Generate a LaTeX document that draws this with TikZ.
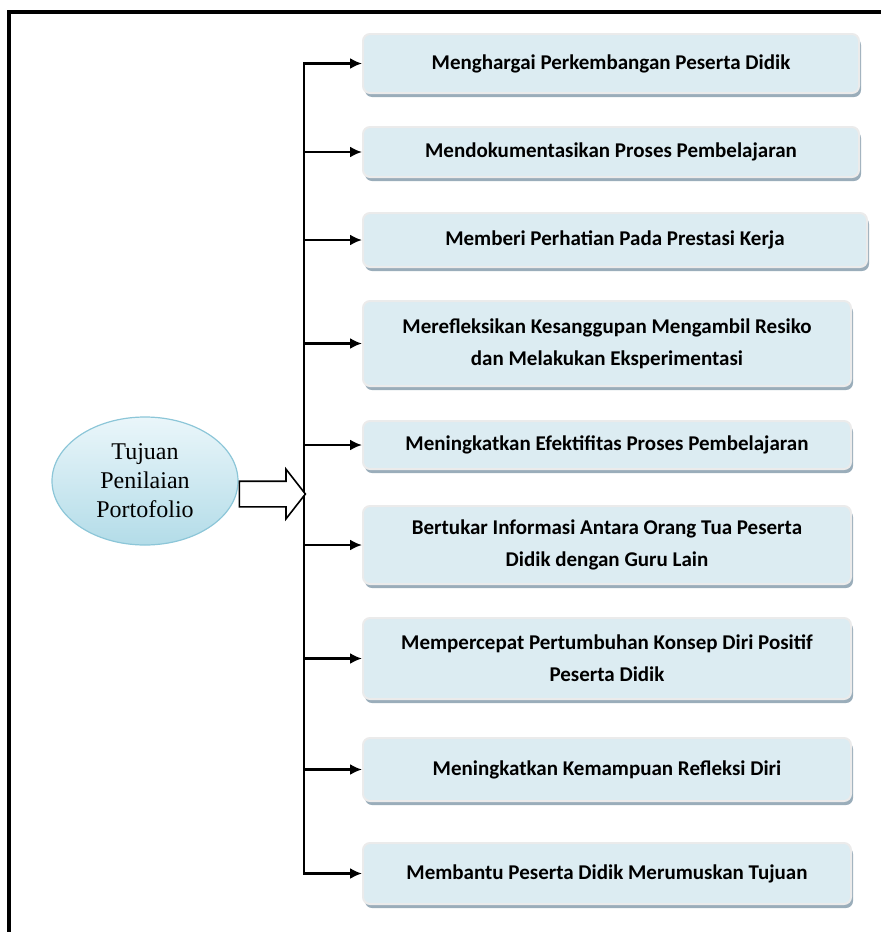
\documentclass[tikz,border=0pt]{standalone}
\usepackage{fontspec}
\setmainfont{Carlito}
\newfontfamily\judulfont{Liberation Serif}
\usetikzlibrary{shapes.geometric, shapes.arrows, shadows, arrows.meta}

\definecolor{isikotak}{HTML}{DCECF2}
\definecolor{bayangan}{HTML}{8FA4B3}
\definecolor{tepielips}{HTML}{8CC6D8}
\definecolor{atasElips}{HTML}{EAF6FA}
\definecolor{bawahElips}{HTML}{B3DCE8}

\begin{document}
\begin{tikzpicture}[
    x=1pt, y=-1pt,
    kotak/.style={rectangle, rounded corners=7pt, draw=white!92!black,
                  line width=2pt, fill=isikotak, anchor=north west,
                  align=center, inner sep=0pt,
                  font=\bfseries\fontsize{21}{32}\selectfont,
                  drop shadow={shadow xshift=2pt, shadow yshift=-4pt,
                               fill=bayangan, opacity=0.9}},
    elips/.style={ellipse, draw=tepielips, line width=1.2pt,
                  top color=atasElips, bottom color=bawahElips,
                  minimum width=186pt, minimum height=128pt, align=center,
                  font=\judulfont\fontsize{24}{29}\selectfont},
    panah/.style={-{Latex[length=12pt, width=11pt]}, line width=2.2pt}
]
    \useasboundingbox (0,0) rectangle (881,932);
    % bingkai luar
    \draw[line width=3.5pt] (9,960) -- (9,12) -- (900,12);

    \node[elips] (tujuan) at (145,481) {Tujuan\\ Penilaian\\ Portofolio};

    \node[kotak, minimum width=496pt, minimum height=59pt] (k1) at (362,33)
        {Menghargai Perkembangan Peserta Didik};
    \node[kotak, minimum width=496pt, minimum height=50pt] (k2) at (362,126)
        {Mendokumentasikan Proses Pembelajaran};
    \node[kotak, minimum width=504pt, minimum height=54pt] (k3) at (362,212)
        {Memberi Perhatian Pada Prestasi Kerja};
    \node[kotak, minimum width=488pt, minimum height=85pt] (k4) at (362,300)
        {Merefleksikan Kesanggupan Mengambil Resiko\\ dan Melakukan Eksperimentasi};
    \node[kotak, minimum width=488pt, minimum height=48pt] (k5) at (362,420)
        {Meningkatkan Efektifitas Proses Pembelajaran};
    \node[kotak, minimum width=488pt, minimum height=78pt] (k6) at (362,505)
        {Bertukar Informasi Antara Orang Tua Peserta\\ Didik dengan Guru Lain};
    \node[kotak, minimum width=488pt, minimum height=81pt] (k7) at (362,617)
        {Mempercepat Pertumbuhan Konsep Diri Positif\\ Peserta Didik};
    \node[kotak, minimum width=488pt, minimum height=63pt] (k8) at (362,737)
        {Meningkatkan Kemampuan Refleksi Diri};
    \node[kotak, minimum width=488pt, minimum height=61pt] (k9) at (362,842)
        {Membantu Peserta Didik Merumuskan Tujuan};

    % batang vertikal
    \coordinate (atas)  at (304,0 |- k1.west);
    \coordinate (bawah) at (304,0 |- k9.west);
    \draw[line width=2.2pt, line cap=rect] (atas) -- (bawah);

    % panah blok dari elips
    \node[single arrow, draw=black, fill=white, line width=1.6pt,
          anchor=tail, inner xsep=0pt, inner ysep=12pt, minimum height=66pt,
          single arrow head extend=12pt, single arrow tip angle=104]
          (blok) at (tujuan.east |- 0,494) {};

    \foreach \k in {1,...,9}
        \draw[panah] (atas |- k\k.west) -- (k\k.west);
\end{tikzpicture}
\end{document}
